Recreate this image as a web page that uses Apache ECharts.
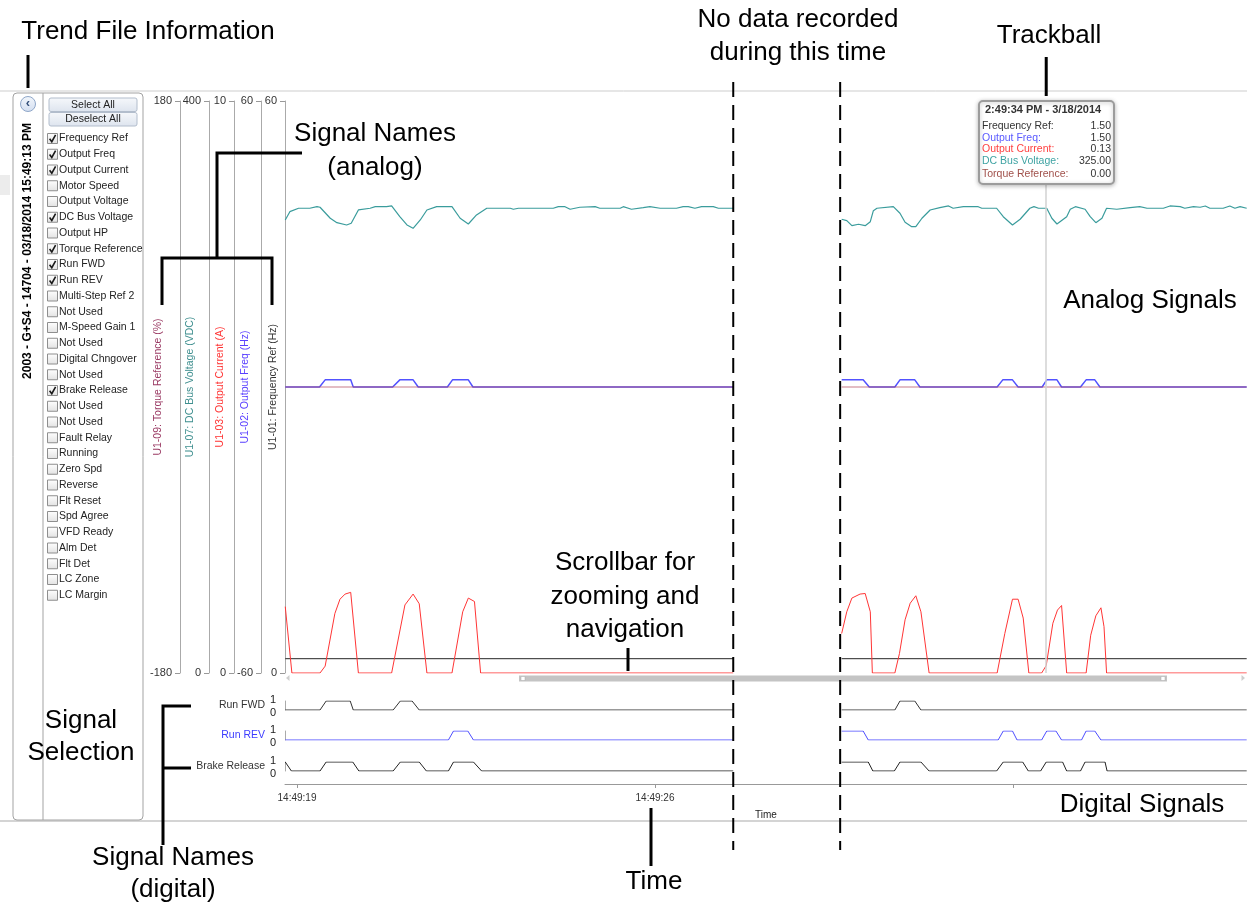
<!DOCTYPE html>
<html><head><meta charset="utf-8">
<script src="https://cdn.jsdelivr.net/npm/echarts@6/dist/echarts.min.js"></script>
<style>html,body{margin:0;padding:0;background:#fff}#c{width:1247px;height:907px}</style>
</head><body><div id="c"></div>
<script>
// ---------- time axis: seconds after 14:49:19 ----------
const timeMin = -0.235, timeMax = 18.576;
const timeTickValues = [0, 7, 14];
const timeLabelValues = [0, 7];
const timeTickLabels = ['14:49:19', '14:49:26'];
const gapTime = 9.6;            // no data recorded between segments
const trackTime = 14.65;        // trackball position

// ---------- analog axes ----------
const analogNames = ['U1-09: Torque Reference (%)', 'U1-07: DC Bus Voltage (VDC)', 'U1-03: Output Current (A)', 'U1-02: Output Freq (Hz)', 'U1-01: Frequency Ref (Hz)'];
const analogMin = [-180, 0, 0, -60, 0];
const analogMax = [180, 400, 10, 60, 60];

// ---------- analog series [t, value] ----------
const dcBusSeg1 = [[-0.23,316.8],[-0.14,322.6],[0.03,325.0],[0.25,325.0],[0.39,326.1],[0.45,325.7],[0.65,318.0],[0.78,314.9],[0.97,313.3],[1.06,314.5],[1.20,323.8],[1.43,325.0],[1.53,326.1],[1.75,326.1],[1.85,326.6],[2.01,319.1],[2.15,313.3],[2.27,311.0],[2.41,316.8],[2.54,323.8],[2.73,326.1],[3.03,326.1],[3.19,318.0],[3.35,314.0],[3.51,320.3],[3.71,325.0],[4.17,325.0],[4.23,324.3],[4.33,325.0],[5.01,325.0],[5.11,326.1],[5.24,326.1],[5.34,324.3],[5.53,325.7],[5.83,326.1],[5.92,325.0],[6.32,325.0],[6.38,326.1],[6.54,324.3],[6.77,325.4],[6.90,326.1],[7.10,325.0],[7.42,325.0],[7.55,326.1],[7.65,326.1],[7.78,325.0],[7.91,326.1],[8.14,326.1],[8.24,325.0],[8.53,325.0]];
const dcBusSeg2 = [[10.65,317.3],[10.75,316.3],[10.85,312.8],[10.98,313.8],[11.11,312.8],[11.21,315.6],[11.27,323.3],[11.34,325.0],[11.66,326.1],[11.79,321.5],[11.89,315.2],[12.02,312.1],[12.10,312.1],[12.22,318.0],[12.38,323.8],[12.57,325.4],[12.74,326.6],[12.83,325.0],[13.03,326.1],[13.32,326.1],[13.39,325.0],[13.68,325.0],[13.81,319.1],[13.99,313.3],[14.14,317.3],[14.33,325.0],[14.41,326.1],[14.50,325.0],[14.66,325.0],[14.76,318.0],[14.86,314.0],[15.05,319.1],[15.12,324.3],[15.22,326.1],[15.41,324.3],[15.51,319.1],[15.62,314.9],[15.74,318.0],[15.83,325.0],[16.03,324.3],[16.29,325.4],[16.48,326.1],[16.62,325.0],[16.94,325.0],[17.07,326.6],[17.27,326.1],[17.36,325.0],[17.53,326.1],[17.66,325.7],[17.76,326.6],[17.85,325.0],[18.11,325.0],[18.24,326.6],[18.34,325.0],[18.44,326.1],[18.57,325.0]];

const currentSeg1 = [[-0.23,1.16],[-0.10,0],[0.45,0],[0.55,0.12],[0.74,1.04],[0.84,1.29],[0.94,1.38],[1.05,1.41],[1.20,0],[1.85,0],[2.11,1.19],[2.27,1.38],[2.39,1.21],[2.54,0],[3.03,0],[3.24,1.07],[3.35,1.31],[3.47,1.25],[3.59,0],[8.53,0]];
const currentSeg2 = [[10.65,0.69],[10.75,1.07],[10.85,1.31],[11.01,1.38],[11.11,1.39],[11.21,1.07],[11.25,0],[11.69,0],[11.78,0.34],[11.89,0.93],[11.99,1.22],[12.10,1.35],[12.20,1.07],[12.36,0],[13.69,0],[13.84,0.69],[13.99,1.29],[14.10,1.29],[14.20,0.96],[14.31,0],[14.56,0],[14.65,0.13],[14.78,0.87],[14.87,1.10],[14.95,1.18],[15.05,0],[15.43,0],[15.52,0.66],[15.62,1.00],[15.72,1.14],[15.78,0.81],[15.83,0],[18.57,0]];

const outFreqSeg1 = [[-0.23,0],[0.44,0],[0.55,1.5],[1.05,1.5],[1.10,0],[1.87,0],[2.01,1.5],[2.27,1.5],[2.37,0],[2.94,0],[3.04,1.5],[3.35,1.5],[3.44,0],[8.53,0]];
const outFreqSeg2 = [[10.65,1.5],[11.07,1.5],[11.19,0],[11.69,0],[11.79,1.5],[12.08,1.5],[12.18,0],[13.69,0],[13.80,1.5],[13.99,1.5],[14.10,0],[14.57,0],[14.66,1.5],[14.86,1.5],[14.95,0],[15.32,0],[15.43,1.5],[15.60,1.5],[15.70,0],[18.57,0]];

const torqueSeg1 = [[-0.23,0],[8.53,0]];
const torqueSeg2 = [[10.65,0],[18.57,0]];
const freqRefSeg1 = [[-0.23,1.5],[8.53,1.5]];
const freqRefSeg2 = [[10.65,1.5],[18.57,1.5]];

// ---------- digital series [t, 0/1] ----------
const digitalNames = ['Run FWD', 'Run REV', 'Brake Release'];
const digitalTickLabels = ['0', '1'];
const runFwdSeg1 = [[-0.23,0],[0.45,0],[0.57,1],[1.04,1],[1.10,0],[1.88,0],[2.02,1],[2.25,1],[2.39,0],[8.53,0]];
const runFwdSeg2 = [[10.65,0],[11.69,0],[11.79,1],[12.08,1],[12.20,0],[18.57,0]];
const runRevSeg1 = [[-0.23,0],[2.96,0],[3.06,1],[3.34,1],[3.45,0],[8.53,0]];
const runRevSeg2 = [[10.65,1],[11.07,1],[11.17,0],[13.71,0],[13.81,1],[13.99,1],[14.08,0],[14.56,0],[14.66,1],[14.84,1],[14.95,0],[15.34,0],[15.43,1],[15.60,1],[15.72,0],[18.57,0]];
const brakeSeg1 = [[-0.23,1],[-0.11,0],[0.45,0],[0.57,1],[1.09,1],[1.21,0],[1.88,0],[2.02,1],[2.39,1],[2.53,0],[2.96,0],[3.06,1],[3.45,1],[3.61,0],[8.53,0]];
const brakeSeg2 = [[10.65,1],[11.17,1],[11.26,0],[11.68,0],[11.79,1],[12.20,1],[12.36,0],[13.68,0],[13.81,1],[14.19,1],[14.30,0],[14.54,0],[14.65,1],[14.97,1],[15.05,0],[15.32,0],[15.41,1],[15.80,1],[15.84,0],[18.57,0]];

// ---------- trackball read-out ----------
const trackTitle = '2:49:34 PM - 3/18/2014';
const trackLabels = ['Frequency Ref:', 'Output Freq:', 'Output Current:', 'DC Bus Voltage:', 'Torque Reference:'];
const trackValues = ['1.50', '1.50', '0.13', '325.00', '0.00'];

// ---------- signal selection list ----------
const headerText = '2003 - G+S4 - 14704 - 03/18/2014 15:49:13 PM';
const signalNames = ['Frequency Ref','Output Freq','Output Current','Motor Speed','Output Voltage','DC Bus Voltage','Output HP','Torque Reference','Run FWD','Run REV','Multi-Step Ref 2','Not Used','M-Speed Gain 1','Not Used','Digital Chngover','Not Used','Brake Release','Not Used','Not Used','Fault Relay','Running','Zero Spd','Reverse','Flt Reset','Spd Agree','VFD Ready','Alm Det','Flt Det','LC Zone','LC Margin'];
const signalChecked = [1,1,1,0,0,1,0,1,1,1,0,0,0,0,0,0,1,0,0,0,0,0,0,0,0,0,0,0,0,0];

// ================= chart =================
const FONT = '"Liberation Sans", Arial, Helvetica, sans-serif';
const join = (a, b) => a.concat([[gapTime, '-']], b);

const analogOffsets = [105, 76, 51, 24, 0];
const analogNameColors = ['#9a3a63', '#3f8f8f', '#ff3333', '#5a40ff', '#333333'];
const analogNameGaps = [16, 13, 8, 10, 6];

const grids = [
  {left: 285, right: 0, top: 101, height: 572},
  {left: 285, right: 0, top: 701, height: 9},
  {left: 285, right: 0, top: 731, height: 9},
  {left: 285, right: 0, top: 762, height: 9}
].map(g => Object.assign({outerBoundsMode: 'none', containLabel: false}, g));

const xAxes = grids.map((g, i) => {
  const base = {type: 'value', gridIndex: i, min: timeMin, max: timeMax, show: false, splitLine: {show: false},
    axisLine: {onZero: false}};
  if (i === 3) {
    Object.assign(base, {
      show: true, position: 'bottom', offset: 13,
      axisLine: {show: true, onZero: false, lineStyle: {color: '#999', width: 1}},
      axisTick: {show: true, length: 4, customValues: timeTickValues, lineStyle: {color: '#999'}},
      axisLabel: {show: true, customValues: timeLabelValues, margin: 9, fontSize: 10, color: '#333', fontFamily: FONT,
        formatter: v => timeTickLabels[timeLabelValues.indexOf(Math.round(v))] || ''},
      name: 'Time', nameLocation: 'middle', nameGap: 26, nameMoveOverlap: false,
      nameTextStyle: {fontSize: 10, color: '#222', fontFamily: FONT}
    });
  }
  return base;
});

const yAxes = analogNames.map((n, i) => ({
  type: 'value', gridIndex: 0, position: 'left', offset: analogOffsets[i],
  min: analogMin[i], max: analogMax[i], interval: analogMax[i] - analogMin[i],
  name: n, nameLocation: 'middle', nameRotate: 90, nameGap: analogNameGaps[i], nameMoveOverlap: false,
  nameTextStyle: {color: analogNameColors[i], fontSize: 10.5, fontFamily: FONT},
  axisLine: {show: true, onZero: false, lineStyle: {color: '#aaa'}},
  axisTick: {show: true, length: 5, lineStyle: {color: '#999'}},
  axisLabel: {show: true, color: '#333', fontSize: 11, margin: 8, fontFamily: FONT, showMinLabel: true, showMaxLabel: true, hideOverlap: false},
  splitLine: {show: false}
}));
digitalNames.forEach((n, i) => yAxes.push({
  type: 'value', gridIndex: i + 1, position: 'left', min: 0, max: 1, interval: 1,
  name: n, nameLocation: 'middle', nameRotate: 0, nameGap: 20, nameMoveOverlap: false,
  nameTextStyle: {color: i === 1 ? '#3c3cff' : '#333', fontSize: 10.5, fontFamily: FONT, align: 'right'},
  axisLine: {show: true, onZero: false, lineStyle: {color: '#aaa'}},
  axisTick: {show: false},
  axisLabel: {show: false},
  splitLine: {show: false}
}));

function line(name, data, xi, yi, color, width, extra) {
  return Object.assign({
    type: 'line', name, data, xAxisIndex: xi, yAxisIndex: yi,
    showSymbol: false, symbol: 'none', connectNulls: false, silent: true,
    lineStyle: {color, width}, itemStyle: {color}, animation: false
  }, extra || {});
}

const series = [
  line('Frequency Ref', join(freqRefSeg1, freqRefSeg2), 0, 4, '#262626', 1),
  line('DC Bus Voltage', join(dcBusSeg1, dcBusSeg2), 0, 1, '#3a9c9c', 1.2, {
    markLine: {silent: true, symbol: ['none', 'none'], label: {show: false}, animation: false,
      lineStyle: {color: '#d2d2d2', type: 'solid', width: 1.5}, data: [{xAxis: trackTime}]}
  }),
  line('Output Current', join(currentSeg1, currentSeg2), 0, 2, '#ff3535', 1),
  line('Output Freq', join(outFreqSeg1, outFreqSeg2), 0, 3, '#5252ff', 1.5),
  line('Torque Reference', join(torqueSeg1, torqueSeg2), 0, 0, 'rgba(176,70,90,0.7)', 1.2),
  line('Run FWD', join(runFwdSeg1, runFwdSeg2), 1, 5, '#333', 1),
  line('Run REV', join(runRevSeg1, runRevSeg2), 2, 6, '#4d4dff', 1),
  line('Brake Release', join(brakeSeg1, brakeSeg2), 3, 7, '#222', 1)
];

const chart = echarts.init(document.getElementById('c'), null, {renderer: 'canvas'});
chart.setOption({
  animation: false, backgroundColor: '#fff',
  grid: grids, xAxis: xAxes, yAxis: yAxes, series
});

// ================= overlays =================
const px = t => chart.convertToPixel({xAxisIndex: 0}, t);
const G = [];
function T(x, y, s, size, color, o) {
  o = o || {};
  const al = o.align || 'left';
  G.push({type: 'text', x, y, z: o.z || 100, rotation: o.rot || 0, silent: true,
    style: {text: s, fontSize: size, fontFamily: FONT, fontWeight: o.bold ? 'bold' : 'normal', fill: color,
      textAlign: al, align: al, textVerticalAlign: 'middle', verticalAlign: 'middle'}});
}
function L(x1, y1, x2, y2, stroke, w, o) {
  o = o || {};
  G.push({type: 'line', z: o.z || 100, silent: true, shape: {x1, y1, x2, y2},
    style: {stroke, lineWidth: w, lineDash: o.dash || null}});
}
function P(points, stroke, w, z) {
  G.push({type: 'polyline', z: z || 100, silent: true, shape: {points}, style: {stroke, lineWidth: w, fill: null}});
}
function R(x, y, w, h, style, z, r) {
  G.push({type: 'rect', z: z || 60, silent: true, shape: {x, y, width: w, height: h, r: r || 0}, style});
}
const grad = (a, b) => ({type: 'linear', x: 0, y: 0, x2: 0, y2: 1, colorStops: [{offset: 0, color: a}, {offset: 1, color: b}]});

// digital axis tick labels (0 / 1), placed from each digital y-axis scale
digitalNames.forEach((n, i) => {
  const yHi = chart.convertToPixel({yAxisIndex: 5 + i}, 1);
  const yLo = chart.convertToPixel({yAxisIndex: 5 + i}, 0);
  T(276, yHi - 1.5, digitalTickLabels[1], 11, '#222', {align: 'right', z: 20});
  T(276, yLo + 2.5, digitalTickLabels[0], 11, '#222', {align: 'right', z: 20});
});

// app frame
L(0, 91, 1247, 91, '#cdcdcd', 1, {z: 5});
L(0, 821, 1247, 821, '#d4d4d4', 2, {z: 5});
R(0, 175, 10, 20, {fill: '#ececec'}, 5);

// left panel
R(13, 93, 130, 727, {fill: 'none', stroke: '#a3a3a3', lineWidth: 1}, 10, 4);
L(43, 93, 43, 820, '#a3a3a3', 1, {z: 10});
G.push({type: 'circle', z: 20, silent: true, shape: {cx: 28, cy: 104, r: 7.5},
  style: {fill: grad('#f3f7fc', '#d3def0'), stroke: '#8fa7c9', lineWidth: 1}});
T(28, 103.5, '‹', 13, '#34507a', {align: 'center', z: 21, bold: true});
T(28, 251, headerText, 12, '#000', {align: 'center', bold: true, rot: Math.PI / 2, z: 20});
R(49, 98, 88, 13.5, {fill: grad('#f6f8fb', '#dde4ee'), stroke: '#b2bdcc', lineWidth: 1}, 20, 2);
R(49, 112.5, 88, 13.5, {fill: grad('#f6f8fb', '#dde4ee'), stroke: '#b2bdcc', lineWidth: 1}, 20, 2);
T(93, 105, 'Select All', 10.5, '#222', {align: 'center', z: 21});
T(93, 119.5, 'Deselect All', 10.5, '#222', {align: 'center', z: 21});
signalNames.forEach((n, i) => {
  const cy = 138.5 + i * 15.75;
  R(47.5, cy - 5, 10, 10, {fill: grad('#ffffff', '#e2e2e2'), stroke: '#8e8e8e', lineWidth: 1}, 20);
  if (signalChecked[i]) P([[49.6, cy + 0.3], [51.8, cy + 3.2], [55.6, cy - 3.6]], '#1a1a1a', 1.6, 21);
  T(59, cy, n, 10.5, '#222', {z: 21});
});

// scrollbar
G.push({type: 'polygon', z: 30, silent: true, shape: {points: [[289.5, 675], [289.5, 681], [286, 678]]}, style: {fill: '#cfcfcf'}});
G.push({type: 'polygon', z: 30, silent: true, shape: {points: [[1241.5, 675], [1241.5, 681], [1245, 678]]}, style: {fill: '#cfcfcf'}});
R(519, 675.5, 648, 6, {fill: '#c4c4c4'}, 30);
R(521, 676.5, 4, 4, {fill: '#fff', stroke: '#aaa', lineWidth: 0.5}, 31);
R(1161, 676.5, 4, 4, {fill: '#fff', stroke: '#aaa', lineWidth: 0.5}, 31);

// trackball read-out
R(979, 101, 135, 83, {fill: '#fff', stroke: '#9c9c9c', lineWidth: 2, shadowBlur: 4, shadowColor: 'rgba(0,0,0,0.25)', shadowOffsetY: 1}, 60, 4);
T(985, 110, trackTitle, 11, '#333', {bold: true, z: 61});
const trackColors = ['#333333', '#5a5aff', '#ff4040', '#3fa3a3', '#a0504a'];
const rowY = [126.5, 138, 149.5, 161.5, 174];
trackLabels.forEach((s, i) => {
  T(982, rowY[i], s, 10.5, trackColors[i], {z: 61});
  T(1111, rowY[i], trackValues[i], 10.5, '#333', {z: 61, align: 'right'});
});

// annotations
const AF = 26;
T(148, 32, 'Trend File Information', AF, '#000', {align: 'center'});
T(798, 20, 'No data recorded', AF, '#000', {align: 'center'});
T(798, 53, 'during this time', AF, '#000', {align: 'center'});
T(1049, 36, 'Trackball', AF, '#000', {align: 'center'});
T(375, 134, 'Signal Names', AF, '#000', {align: 'center'});
T(375, 168, '(analog)', AF, '#000', {align: 'center'});
T(1150, 301, 'Analog Signals', AF, '#000', {align: 'center'});
T(625, 563, 'Scrollbar for', AF, '#000', {align: 'center'});
T(625, 597, 'zooming and', AF, '#000', {align: 'center'});
T(625, 630, 'navigation', AF, '#000', {align: 'center'});
T(81, 721, 'Signal', AF, '#000', {align: 'center'});
T(81, 753, 'Selection', AF, '#000', {align: 'center'});
T(1142, 805, 'Digital Signals', AF, '#000', {align: 'center'});
T(173, 858, 'Signal Names', AF, '#000', {align: 'center'});
T(173, 890, '(digital)', AF, '#000', {align: 'center'});
T(654, 882, 'Time', AF, '#000', {align: 'center'});

L(28, 55, 28, 88, '#000', 3);
L(px(trackTime), 57, px(trackTime), 96, '#000', 3);
P([[302, 153], [217, 153], [217, 258]], '#000', 3);
P([[162, 305], [162, 258], [272, 258], [272, 305]], '#000', 3);
L(628, 648, 628, 671, '#000', 3);
P([[191, 706], [163, 706], [163, 845]], '#000', 3);
L(163, 768, 191, 768, '#000', 3);
L(651, 808, 651, 866, '#000', 3);
const gapL = px(dcBusSeg1[dcBusSeg1.length - 1][0]);
const gapR = px(dcBusSeg2[0][0]) - 1.5;
L(gapL, 82, gapL, 850, '#000', 2, {dash: [15, 8]});
L(gapR, 82, gapR, 850, '#000', 2, {dash: [15, 8]});

chart.setOption({graphic: {elements: G}});
</script></body></html>
